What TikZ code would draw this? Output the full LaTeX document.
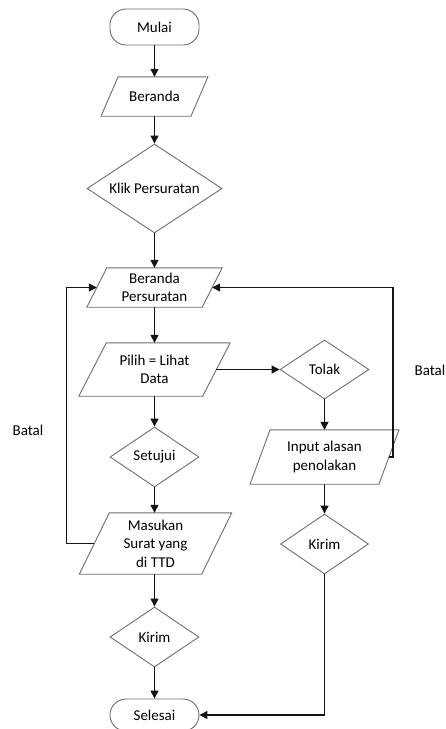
\documentclass[tikz,border=0pt]{standalone}
\usepackage{fontspec}
\setmainfont{Carlito}
\usetikzlibrary{shapes.geometric,arrows.meta,calc}
\definecolor{shapegray}{RGB}{110,110,110}
\definecolor{linecol}{RGB}{20,20,20}
\newcommand{\paraoutline}[2]{%
  \draw[shp] ($(#1.south west)+(-#2/2,0)$) -- ($(#1.north west)+(#2/2,0)$) --
    ($(#1.north east)+(#2/2,0)$) -- ($(#1.south east)+(-#2/2,0)$) -- cycle;}
\begin{document}
\begin{tikzpicture}[x=1pt,y=-1pt,
  every node/.style={font=\fontsize{15}{18.5}\selectfont, align=center, text=black},
  shp/.style={draw=shapegray, line width=0.9pt},
  term/.style={rectangle, rounded corners=16pt, shp, minimum width=89pt, inner sep=0pt},
  dia/.style={diamond, shp, inner sep=0pt},
  para/.style={rectangle, inner sep=0pt},
  arr/.style={draw=linecol, line width=1.3pt, -{Triangle[length=8pt,width=8pt]}},
  ln/.style={draw=linecol, line width=1.3pt}]
\useasboundingbox (0,0) rectangle (446,729);
\fill[white] (0,0) rectangle (446,729);

\node[term, minimum height=36pt] (mulai) at (154.5,27) {Mulai};
\node[para, minimum width=89.5pt, minimum height=39pt] (beranda) at (154.5,96.5) {Beranda};
\node[dia, aspect=1.52, minimum width=135pt, minimum height=89pt] (klik) at (154.5,188.5) {Klik Persuratan};
\node[para, minimum width=115pt, minimum height=39pt] (bp) at (154.5,287.5) {Beranda\\Persuratan};
\node[para, minimum width=123.5pt, minimum height=53pt] (pilih) at (154.5,369.5) {Pilih = Lihat\\Data};
\node[dia, aspect=1.48, minimum width=89pt, minimum height=60pt] (setujui) at (154.5,457) {Setujui};
\node[para, minimum width=122pt, minimum height=61pt] (masukan) at (155.5,543.5) {Masukan\\Surat yang\\di TTD};
\node[dia, aspect=1.48, minimum width=89pt, minimum height=60pt] (kirimL) at (154.5,637) {Kirim};
\node[term, minimum height=32pt] (selesai) at (154.5,715) {Selesai};

\node[dia, aspect=1.48, minimum width=89pt, minimum height=59pt] (tolak) at (324.5,369.5) {Tolak};
\node[para, minimum width=128.5pt, minimum height=54pt] (input) at (324.5,457) {Input alasan\\penolakan};
\node[dia, aspect=1.48, minimum width=88pt, minimum height=60pt] (kirimR) at (324.5,544) {Kirim};

\node (batalL) at (28,430) {Batal};
\node (batalR) at (430,370) {Batal};

\paraoutline{beranda}{17}
\paraoutline{bp}{20}
\paraoutline{pilih}{27.5}
\paraoutline{masukan}{30}
\paraoutline{input}{20}

\coordinate (loopL) at (66.5,400);
\coordinate (loopR) at (393,400);

\draw[arr] (mulai.south) -- (beranda.north);
\draw[arr] (beranda.south) -- (klik.north);
\draw[arr] (klik.south) -- (bp.north);
\draw[arr] (bp.south) -- (pilih.north);
\draw[arr] (pilih.south) -- (setujui.north);
\draw[arr] (setujui.south) -- (setujui.south |- masukan.north);
\draw[arr] (masukan.south -| kirimL.north) -- (kirimL.north);
\draw[arr] (kirimL.south) -- (selesai.north);
\draw[arr] (pilih.east) -- (tolak.west);
\draw[arr] (tolak.south) -- (input.north);
\draw[arr] (input.south) -- (kirimR.north);
\draw[arr] (kirimR.south) |- (selesai.east);
\draw[arr] (masukan.west) -| (loopL) |- (bp.west);
\draw[arr] (input.east) -| (loopR) |- (bp.east);
\end{tikzpicture}
\end{document}
